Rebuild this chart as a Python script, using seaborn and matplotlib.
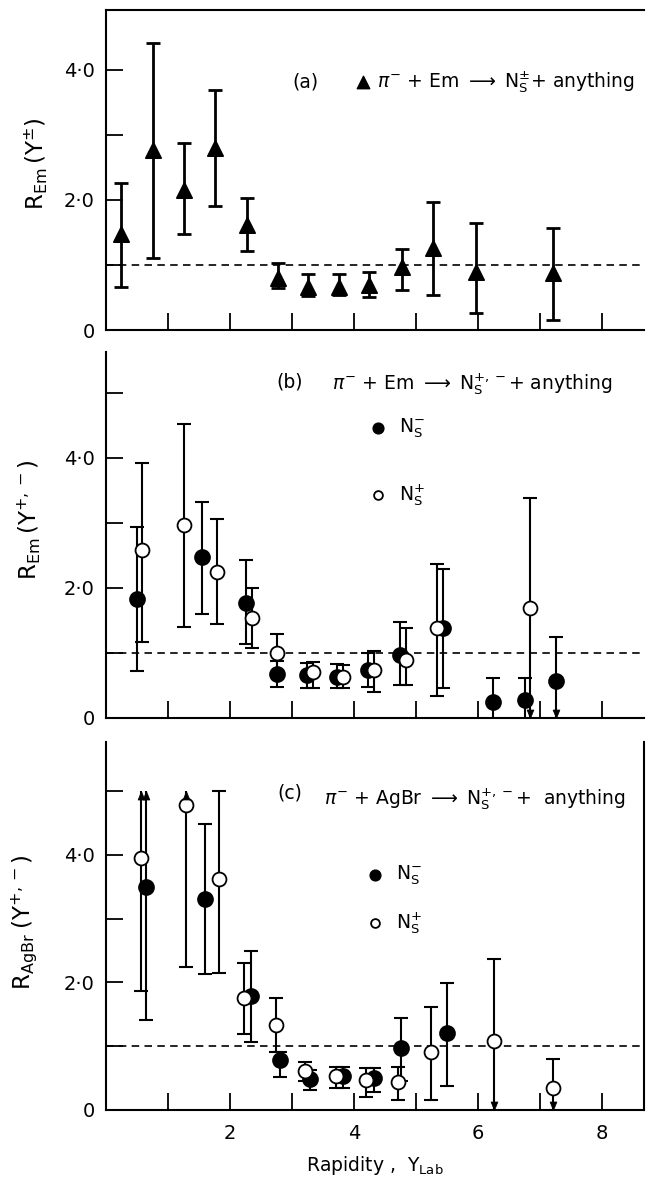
import numpy as np
import pandas as pd
import matplotlib
matplotlib.use("Agg")
import matplotlib.pyplot as plt
from matplotlib.path import Path
from matplotlib.ticker import FixedLocator, FuncFormatter
import seaborn as sns

# ---------------- data ----------------
# (a) pi- + Em -> Ns(+-) + anything
a_rap = [0.24, 0.76, 1.26, 1.76, 2.27, 2.77, 3.26, 3.76, 4.25, 4.77, 5.27, 5.97, 7.21]
a_val = [1.48, 2.77, 2.15, 2.80, 1.62, 0.80, 0.66, 0.66, 0.69, 0.97, 1.26, 0.89, 0.88]
a_low = [0.66, 1.10, 1.47, 1.91, 1.22, 0.64, 0.52, 0.54, 0.51, 0.62, 0.54, 0.26, 0.15]
a_high = [2.26, 4.41, 2.88, 3.69, 2.03, 1.03, 0.86, 0.86, 0.89, 1.25, 1.97, 1.65, 1.57]

# (b) pi- + Em -> Ns(+,-) + anything, negative tracks
b_neg_rap = [0.50, 1.55, 2.26, 2.76, 3.24, 3.72, 4.23, 4.74, 5.44, 6.24, 6.76, 7.27]
b_neg_val = [1.83, 2.48, 1.77, 0.68, 0.66, 0.63, 0.74, 0.97, 1.38, 0.25, 0.28, 0.57]
b_neg_low = [0.72, 1.60, 1.14, 0.48, 0.46, 0.46, 0.48, 0.50, 0.46, 0.00, 0.00, 0.00]
b_neg_high = [2.94, 3.32, 2.43, 0.88, 0.85, 0.83, 1.00, 1.48, 2.29, 0.62, 0.62, 1.25]
b_neg_low_end = ["cap"] * 9 + ["open", "open", "limit"]
b_neg_high_end = ["cap"] * 12

# (b) positive tracks
b_pos_rap = [0.58, 1.26, 1.79, 2.35, 2.76, 3.34, 3.82, 4.32, 4.84, 5.34, 6.84]
b_pos_val = [2.58, 2.97, 2.25, 1.54, 1.00, 0.71, 0.63, 0.74, 0.89, 1.38, 1.69]
b_pos_low = [1.17, 1.40, 1.45, 1.08, 0.70, 0.46, 0.46, 0.40, 0.50, 0.34, 0.00]
b_pos_high = [3.92, 4.52, 3.06, 2.00, 1.29, 0.86, 0.82, 1.03, 1.38, 2.37, 3.38]
b_pos_low_end = ["cap"] * 10 + ["limit"]
b_pos_high_end = ["cap"] * 11

# (c) pi- + AgBr -> Ns(+,-) + anything, negative tracks
c_neg_rap = [0.65, 1.60, 2.34, 2.80, 3.30, 3.83, 4.32, 4.76, 5.50]
c_neg_val = [3.50, 3.31, 1.79, 0.78, 0.49, 0.53, 0.50, 0.97, 1.20]
c_neg_low = [1.41, 2.13, 1.07, 0.52, 0.31, 0.35, 0.28, 0.45, 0.38]
c_neg_high = [5.00, 4.48, 2.49, 0.91, 0.62, 0.68, 0.66, 1.44, 1.99]
c_neg_low_end = ["cap"] * 9
c_neg_high_end = ["limit"] + ["cap"] * 8

# (c) positive tracks
c_pos_rap = [0.56, 1.29, 1.82, 2.22, 2.74, 3.21, 3.71, 4.20, 4.72, 5.25, 6.26, 7.21]
c_pos_val = [3.95, 4.78, 3.62, 1.76, 1.33, 0.61, 0.53, 0.47, 0.44, 0.91, 1.08, 0.35]
c_pos_low = [1.87, 2.24, 2.15, 1.19, 0.91, 0.45, 0.35, 0.20, 0.16, 0.16, 0.00, 0.00]
c_pos_high = [5.00, 5.00, 5.00, 2.30, 1.76, 0.75, 0.68, 0.66, 0.68, 1.61, 2.37, 0.80]
c_pos_low_end = ["cap"] * 10 + ["limit", "limit"]
c_pos_high_end = ["limit", "limit"] + ["cap"] * 10

x_ticks = [1, 2, 3, 4, 5, 6, 7, 8]
x_tick_labels = {2: "2", 4: "4", 6: "6", 8: "8"}
y_tick_labels = {0: "0", 2: "2·0", 4: "4·0"}

# ---------------- style ----------------
sns.set_theme(style="white")
plt.rcParams["font.family"] = ["DejaVu Sans"]
plt.rcParams["mathtext.fontset"] = "dejavusans"
plt.rcParams["axes.linewidth"] = 1.5

INK = "black"
FS = 13.5
YLAB_FS = 16.5

# arrow heads with their tip at the anchor point
DOWN_HEAD = Path([(0, 0), (-0.4, 1.0), (0.4, 1.0), (0, 0)],
                 [Path.MOVETO, Path.LINETO, Path.LINETO, Path.CLOSEPOLY])
UP_HEAD = Path([(0, 0), (-0.4, -1.0), (0.4, -1.0), (0, 0)],
               [Path.MOVETO, Path.LINETO, Path.LINETO, Path.CLOSEPOLY])


def draw_series(ax, rap, val, low, high, marker, filled, size, lw,
                low_end=None, high_end=None):
    n = len(rap)
    df = pd.DataFrame({
        "rap": rap, "val": val, "low": low, "high": high,
        "low_end": low_end if low_end is not None else ["cap"] * n,
        "high_end": high_end if high_end is not None else ["cap"] * n,
    })
    err = np.vstack([df["val"] - df["low"], df["high"] - df["val"]])
    ax.errorbar(df["rap"], df["val"], yerr=err, fmt="none", ecolor=INK,
                elinewidth=lw, capsize=0, zorder=2)
    cap_kw = dict(marker="_", s=95, linewidths=lw, color=INK, zorder=2)
    hi_cap = df[df["high_end"] == "cap"]
    ax.scatter(hi_cap["rap"], hi_cap["high"], **cap_kw)
    lo_cap = df[df["low_end"] == "cap"]
    ax.scatter(lo_cap["rap"], lo_cap["low"], **cap_kw)
    head_kw = dict(s=150, color=INK, edgecolors=INK, linewidths=0.5,
                   zorder=4, clip_on=False)
    hi_lim = df[df["high_end"] == "limit"]
    ax.scatter(hi_lim["rap"], hi_lim["high"], marker=UP_HEAD, **head_kw)
    lo_lim = df[df["low_end"] == "limit"]
    ax.scatter(lo_lim["rap"], lo_lim["low"], marker=DOWN_HEAD, **head_kw)
    sns.scatterplot(data=df, x="rap", y="val", ax=ax, marker=marker, s=size,
                    color=INK if filled else "white", edgecolor=INK,
                    linewidth=1.3, zorder=3, legend=False)


def style_axes(ax, ymax, y_major, show_x_labels):
    ax.set_xlim(0, 8.68)
    ax.set_ylim(0, ymax)
    ax.xaxis.set_major_locator(FixedLocator(x_ticks))
    ax.yaxis.set_major_locator(FixedLocator(y_major))
    ax.yaxis.set_major_formatter(
        FuncFormatter(lambda v, p: y_tick_labels.get(int(round(v)), "")))
    if show_x_labels:
        ax.xaxis.set_major_formatter(
            FuncFormatter(lambda v, p: x_tick_labels.get(int(round(v)), "")))
    else:
        ax.xaxis.set_major_formatter(FuncFormatter(lambda v, p: ""))
    ax.tick_params(axis="both", direction="in", length=12, width=1.3,
                   color=INK, labelsize=14, labelcolor=INK)
    ax.tick_params(axis="y", pad=8)
    ax.tick_params(axis="x", pad=10)
    ax.tick_params(left=True, bottom=True, right=False, top=False)
    ax.axhline(1.0, color=INK, lw=1.2, ls=(0, (4.5, 3.2)), zorder=1)
    ax.set_xlabel("")
    for s in ax.spines.values():
        s.set_color(INK)
        s.set_linewidth(1.5)


fig = plt.figure(figsize=(6.48, 11.85), dpi=100)
ax_a = fig.add_axes([0.1636, 0.7215, 0.830, 0.2700])
ax_b = fig.add_axes([0.1636, 0.3941, 0.830, 0.3089])
ax_c = fig.add_axes([0.1636, 0.0633, 0.830, 0.3105])

ARROW = r"$\longrightarrow$"

# ---- panel (a)
draw_series(ax_a, a_rap, a_val, a_low, a_high, "^", True, 120, 2.0)
style_axes(ax_a, 4.92, [0, 1, 2, 3, 4], False)
ax_a.spines["right"].set_visible(False)
ax_a.set_ylabel(r"$\mathrm{R_{Em}}\,(\mathrm{Y}^{\pm})$", fontsize=YLAB_FS,
                color=INK)
ax_a.yaxis.set_label_coords(-0.104, 0.52)
ax_a.text(0.37, 0.775, "(a)", transform=ax_a.transAxes, ha="center",
          va="center", fontsize=FS, color=INK)
ax_a.scatter([0.478], [0.776], transform=ax_a.transAxes, marker="^", s=80,
             color=INK, clip_on=False)
ax_a.text(0.503, 0.775,
          r"$\pi^{-}$ + Em " + ARROW + r" N$_{\rm S}^{\pm}$+ anything",
          transform=ax_a.transAxes, ha="left", va="center", fontsize=FS,
          color=INK)

# ---- panel (b)
draw_series(ax_b, b_neg_rap, b_neg_val, b_neg_low, b_neg_high, "o", True, 115,
            1.5, b_neg_low_end, b_neg_high_end)
draw_series(ax_b, b_pos_rap, b_pos_val, b_pos_low, b_pos_high, "o", False, 100,
            1.5, b_pos_low_end, b_pos_high_end)
style_axes(ax_b, 5.63, [0, 1, 2, 3, 4, 5], False)
ax_b.spines["right"].set_visible(False)
ax_b.spines["top"].set_visible(False)
ax_b.set_ylabel(r"$\mathrm{R_{Em}}\,(\mathrm{Y}^{+,-})$", fontsize=YLAB_FS,
                color=INK)
ax_b.yaxis.set_label_coords(-0.117, 0.54)
ax_b.text(0.342, 0.918, "(b)", transform=ax_b.transAxes, ha="center",
          va="center", fontsize=FS, color=INK)
ax_b.text(0.42, 0.912,
          r"$\pi^{-}$ + Em " + ARROW + r" N$_{\rm S}^{+,-}$+ anything",
          transform=ax_b.transAxes, ha="left", va="center", fontsize=FS,
          color=INK)
ax_b.scatter([0.506], [0.792], transform=ax_b.transAxes, marker="o", s=60,
             color=INK)
ax_b.scatter([0.506], [0.609], transform=ax_b.transAxes, marker="o", s=40,
             facecolor="white", edgecolor=INK, linewidths=1.3)
ax_b.text(0.545, 0.792, r"N$_{\rm S}^{-}$", transform=ax_b.transAxes,
          ha="left", va="center", fontsize=FS, color=INK)
ax_b.text(0.545, 0.609, r"N$_{\rm S}^{+}$", transform=ax_b.transAxes,
          ha="left", va="center", fontsize=FS, color=INK)

# ---- panel (c)
draw_series(ax_c, c_neg_rap, c_neg_val, c_neg_low, c_neg_high, "o", True, 115,
            1.5, c_neg_low_end, c_neg_high_end)
draw_series(ax_c, c_pos_rap, c_pos_val, c_pos_low, c_pos_high, "o", False, 100,
            1.5, c_pos_low_end, c_pos_high_end)
style_axes(ax_c, 5.77, [0, 1, 2, 3, 4, 5], True)
ax_c.spines["top"].set_visible(False)
ax_c.set_ylabel(r"$\mathrm{R_{AgBr}}\;(\mathrm{Y}^{+,-})$", fontsize=YLAB_FS,
                color=INK)
ax_c.yaxis.set_label_coords(-0.125, 0.51)
ax_c.set_xlabel(r"Rapidity ,  Y$_{\rm Lab}$", fontsize=FS, color=INK,
                labelpad=8)
ax_c.text(0.342, 0.862, "(c)", transform=ax_c.transAxes, ha="center",
          va="center", fontsize=FS, color=INK)
ax_c.text(0.405, 0.845,
          r"$\pi^{-}$ + AgBr " + ARROW + r" N$_{\rm S}^{+,-}$+  anything",
          transform=ax_c.transAxes, ha="left", va="center", fontsize=FS,
          color=INK)
ax_c.scatter([0.5], [0.639], transform=ax_c.transAxes, marker="o", s=60,
             color=INK)
ax_c.scatter([0.5], [0.508], transform=ax_c.transAxes, marker="o", s=40,
             facecolor="white", edgecolor=INK, linewidths=1.3)
ax_c.text(0.54, 0.639, r"N$_{\rm S}^{-}$", transform=ax_c.transAxes,
          ha="left", va="center", fontsize=FS, color=INK)
ax_c.text(0.54, 0.508, r"N$_{\rm S}^{+}$", transform=ax_c.transAxes,
          ha="left", va="center", fontsize=FS, color=INK)

fig.savefig("out.png", dpi=100, facecolor="white")
